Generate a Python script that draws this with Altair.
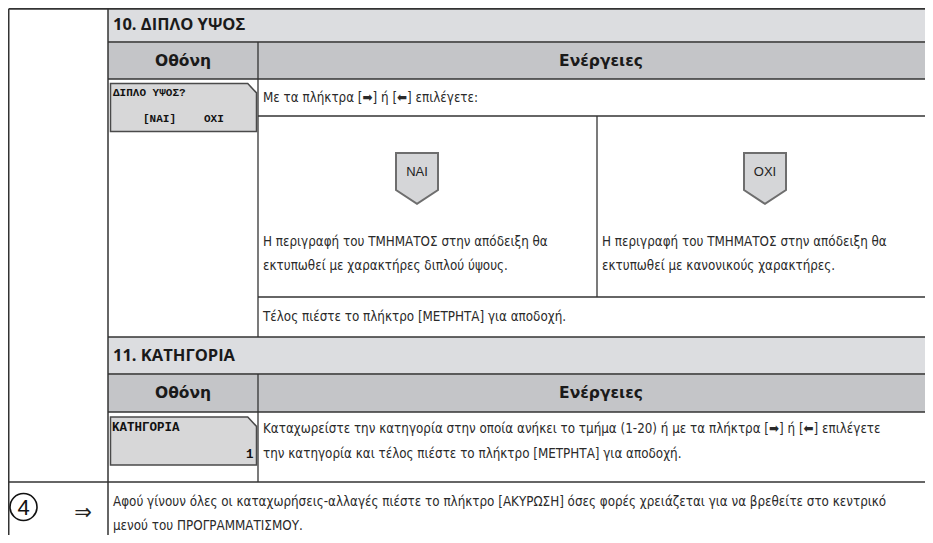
import altair as alt
import pandas as pd

# ---------------- content ----------------
section_titles = ["10. ΔΙΠΛΟ ΥΨΟΣ", "11. ΚΑΤΗΓΟΡΙΑ"]
column_headers = ["Οθόνη", "Ενέργειες"]
lcd_double_height = ["ΔΙΠΛΟ ΥΨΟΣ?", "[NAI]", "OXI"]
lcd_category = ["ΚΑΤΗΓΟΡΙΑ", "1"]
choice_keys = ["NAI", "OXI"]
select_prompt = "Με τα πλήκτρα [➡] ή [⬅] επιλέγετε:"
yes_text = ["Η περιγραφή του ΤΜΗΜΑΤΟΣ στην απόδειξη θα",
            "εκτυπωθεί με χαρακτήρες διπλού ύψους."]
no_text = ["Η περιγραφή του ΤΜΗΜΑΤΟΣ στην απόδειξη θα",
           "εκτυπωθεί με κανονικούς χαρακτήρες."]
confirm_text = "Τέλος πιέστε το πλήκτρο [ΜΕΤΡΗΤΑ] για αποδοχή."
category_text = ["Καταχωρείστε την κατηγορία στην οποία ανήκει το τμήμα (1-20) ή με τα πλήκτρα [➡] ή [⬅] επιλέγετε",
                 "την κατηγορία και τέλος πιέστε το πλήκτρο [ΜΕΤΡΗΤΑ] για αποδοχή."]
step_number = "4"
step_arrow = "⇒"
final_text = ["Αφού γίνουν όλες οι καταχωρήσεις-αλλαγές πιέστε το πλήκτρο [ΑΚΥΡΩΣΗ] όσες φορές χρειάζεται για να βρεθείτε στο κεντρικό",
              "μενού του ΠΡΟΓΡΑΜΜΑΤΙΣΜΟΥ."]

# ---------------- layout (page pixels of the reference) ----------------
XL, XS, XD, XM, XR = 8.75, 108, 258, 597, 925          # table columns
YT, YH1, YC1, YR1, YR2, YT2, YH2, YC2, YL, YB = 8.75, 42, 79, 116, 297, 337, 374, 412, 482, 535

LINE = "#333333"
HEAD = "#5a5a5a"
TITLE_FILL = "#dcdde0"
HEAD_FILL = "#c4c5c8"

fills = pd.DataFrame([
    (XS, XR, YT, YH1, TITLE_FILL),
    (XS, XR, YH1, YC1, HEAD_FILL),
    (XS, XR, YT2, YH2, TITLE_FILL),
    (XS, XR, YH2, YC2, HEAD_FILL),
], columns=["x", "x2", "y", "y2", "c"])

lines = pd.DataFrame([
    (XL, XR, YT, YT, 2.0, LINE),
    (XS, XR, YH1, YH1, 2.0, HEAD),
    (XS, XR, YC1, YC1, 1.5, LINE),
    (XD, XR, YR1, YR1, 1.3, LINE),
    (XD, XR, YR2, YR2, 1.3, LINE),
    (XS, XR, YT2, YT2, 1.5, LINE),
    (XS, XR, YH2, YH2, 2.0, HEAD),
    (XS, XR, YC2, YC2, 1.5, LINE),
    (XL, XR, YL, YL, 1.5, LINE),
    (XL, XL, YT, YB, 1.5, LINE),
    (XS, XS, YT, YB, 1.5, LINE),
    (XD, XD, YH1, YT2, 1.3, LINE),
    (XD, XD, YH2, YL, 1.3, LINE),
    (XM, XM, YR1, YR2, 1.3, LINE),
], columns=["x", "x2", "y", "y2", "w", "c"])

X = dict(scale=alt.Scale(domain=[8, 925], nice=False, zero=False), axis=None)
Yk = dict(scale=alt.Scale(domain=[8, 535], nice=False, zero=False, reverse=True), axis=None)


def pos():
    return dict(x=alt.X("x:Q", **X), y=alt.Y("y:Q", **Yk))


rect_layer = alt.Chart(fills).mark_rect().encode(
    x=alt.X("x:Q", **X), x2="x2:Q",
    y=alt.Y("y:Q", **Yk), y2="y2:Q",
    color=alt.Color("c:N", scale=None),
)

rule_layer = alt.Chart(lines).mark_rule().encode(
    x=alt.X("x:Q", **X), x2="x2:Q",
    y=alt.Y("y:Q", **Yk), y2="y2:Q",
    color=alt.Color("c:N", scale=None),
    strokeWidth=alt.StrokeWidth("w:Q", scale=None),
)

# LCD display boxes (grey panel with cut top-right corner)
LCD_PATH = "M -1 -0.33 L 0.88 -0.33 L 1 -0.2 L 1 0.33 L -1 0.33 Z"
lcd_boxes = pd.DataFrame({"x": [183.5, 183.5], "y": [107.5, 441]})
lcd_layer = alt.Chart(lcd_boxes).mark_point(
    shape=LCD_PATH, filled=True, fill="#d7d7d8", stroke="#4a4a4a",
    strokeWidth=1.5, size=146 ** 2, opacity=1,
).encode(**pos())

# key badges (pentagon pointing down)
BADGE_PATH = "M -1 -1.21 L 1 -1.21 L 1 0.55 L 0 1.21 L -1 0.55 Z"
badges = pd.DataFrame({"x": [417, 765], "y": [178.5, 178.5], "t": choice_keys})
badge_layer = alt.Chart(badges).mark_point(
    shape=BADGE_PATH, filled=True, fill="#d5d6d8", stroke="#6e6e6e",
    strokeWidth=2, size=42 ** 2, opacity=1,
).encode(**pos())
badge_text = alt.Chart(badges).mark_text(
    font="Liberation Sans", fontSize=13, color="#222222", baseline="middle", align="center", dy=-7,
).encode(text="t:N", **pos())

# step circle with number and arrow
circle_df = pd.DataFrame({"x": [23.5], "y": [507], "t": [step_number]})
circle_layer = alt.Chart(circle_df).mark_point(
    shape="circle", filled=False, stroke="#111111", strokeWidth=1.6, size=27 ** 2, opacity=1,
).encode(**pos())
circle_text = alt.Chart(circle_df).mark_text(
    font="Liberation Sans", fontSize=22, color="#111111", baseline="middle", align="center", dy=1,
).encode(text="t:N", **pos())
arrow_df = pd.DataFrame({"x": [83], "y": [513], "t": [step_arrow]})
arrow_text = alt.Chart(arrow_df).mark_text(
    font="DejaVu Sans", fontSize=21, color="#222222", baseline="middle", align="center",
).encode(text="t:N", **pos())

# titles and headers
titles = pd.DataFrame({"x": [113, 113], "y": [24.5, 355.5], "t": section_titles})
title_layer = alt.Chart(titles).mark_text(
    font="Open Sans", fontWeight="bold", fontSize=16.5, color="#1a1a1a", align="left", baseline="middle",
).encode(text="t:N", **pos())

heads = pd.DataFrame({
    "x": [183, 601, 183, 601],
    "y": [60.5, 60.5, 393, 393],
    "t": column_headers * 2,
})
head_layer = alt.Chart(heads).mark_text(
    font="DejaVu Sans", fontWeight="bold", fontSize=15.5, color="#1a1a1a", align="center", baseline="middle",
).encode(text="t:N", **pos())

# LCD texts
lcd1 = pd.DataFrame({"x": [113, 143, 204], "y": [92.5, 119, 119], "t": lcd_double_height})
lcd_text_1 = alt.Chart(lcd1).mark_text(
    font="Liberation Mono", fontWeight="bold", fontSize=11, color="#111111", align="left", baseline="middle",
).encode(text="t:N", **pos())
lcd2l = pd.DataFrame({"x": [112], "y": [427], "t": lcd_category[:1]})
lcd_text_2 = alt.Chart(lcd2l).mark_text(
    font="Liberation Mono", fontWeight="bold", fontSize=12.5, color="#111111", align="left", baseline="middle",
).encode(text="t:N", **pos())
lcd2r = pd.DataFrame({"x": [253.5], "y": [454], "t": lcd_category[1:]})
lcd_text_3 = alt.Chart(lcd2r).mark_text(
    font="Liberation Mono", fontWeight="bold", fontSize=12.5, color="#111111", align="right", baseline="middle",
).encode(text="t:N", **pos())

# body texts
body = pd.DataFrame({
    "x": [263, 263, 263, 602, 602, 263, 263, 263, 113, 113],
    "y": [98, 242, 266, 242, 266, 317, 429, 454, 502, 526],
    "t": [select_prompt] + yes_text + no_text + [confirm_text] + category_text + final_text,
})
body_layer = alt.Chart(body).mark_text(
    font="DejaVu Sans Condensed", fontSize=13.3,
    color="#2a2a2a", align="left", baseline="middle",
).encode(text="t:N", **pos())

chart = alt.layer(
    rect_layer, rule_layer, lcd_layer, badge_layer, badge_text,
    circle_layer, circle_text, arrow_text,
    title_layer, head_layer, lcd_text_1, lcd_text_2, lcd_text_3, body_layer,
).properties(
    width=917, height=527, padding=0, autosize=alt.AutoSizeParams(type="none"),
    background="white",
).configure_view(stroke=None)

chart.save("out.html", embed_options={"renderer": "svg", "actions": False})
